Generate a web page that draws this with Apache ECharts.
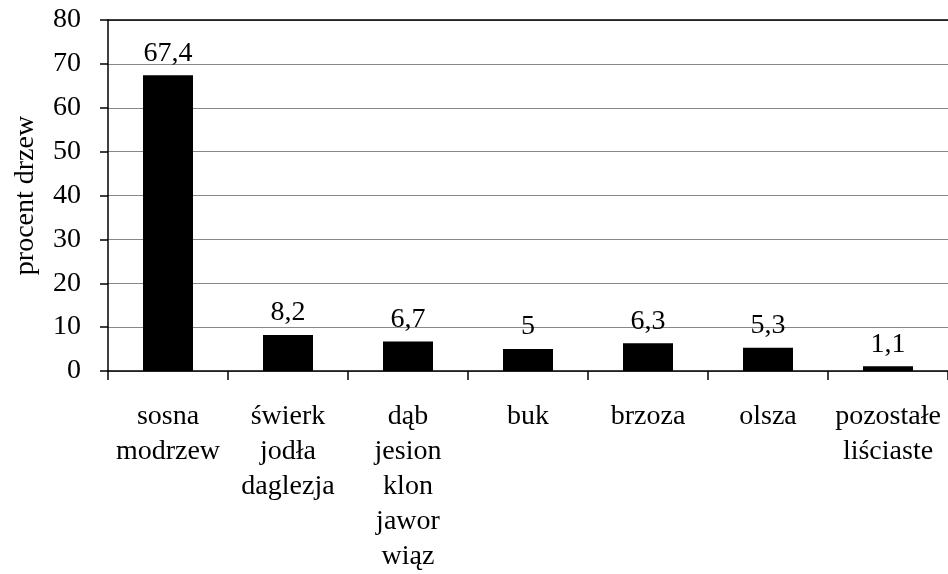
<!DOCTYPE html>
<html>
<head>
<meta charset="utf-8">
<script src="https://cdn.jsdelivr.net/npm/echarts@6/dist/echarts.min.js"></script>
<style>html,body{margin:0;padding:0;background:#fff}#c{width:948px;height:574px}</style>
</head>
<body>
<div id="c"></div>
<script>
const categories = ['sosna\nmodrzew', 'świerk\njodła\ndaglezja', 'dąb\njesion\nklon\njawor\nwiąz', 'buk', 'brzoza', 'olsza', 'pozostałe\nliściaste'];
const values = [67.4, 8.2, 6.7, 5, 6.3, 5.3, 1.1];
const yName = 'procent drzew';
const FONT = '"Liberation Serif", "Times New Roman", serif';
const chart = echarts.init(document.getElementById('c'), null, {renderer: 'canvas'});
chart.setOption({
  animation: false,
  grid: {left: 108, right: 0, top: 20, bottom: 199},
  xAxis: [{
    type: 'category', data: categories, position: 'bottom',
    axisLine: {lineStyle: {color: '#000', width: 1.5}},
    axisTick: {show: true, length: 9, lineStyle: {color: '#000', width: 1.5}},
    axisLabel: {color: '#000', fontFamily: FONT, fontSize: 28, lineHeight: 35, margin: 28, interval: 0}
  }, {
    type: 'category', data: categories, position: 'top',
    axisLine: {show: true, onZero: false, lineStyle: {color: '#000', width: 1.5}},
    axisTick: {show: false}, axisLabel: {show: false}
  }],
  yAxis: {
    type: 'value', min: 0, max: 80, interval: 10,
    name: yName, nameLocation: 'middle', nameGap: 68, nameRotate: 90,
    nameTextStyle: {color: '#000', fontFamily: FONT, fontSize: 28},
    axisLine: {show: true, lineStyle: {color: '#000', width: 1.5}},
    axisTick: {show: true, length: 8, lineStyle: {color: '#000', width: 1.5}},
    axisLabel: {color: '#000', fontFamily: FONT, fontSize: 28, margin: 27},
    splitLine: {lineStyle: {color: '#888', width: 1}}
  },
  series: [{
    type: 'bar', data: values, xAxisIndex: 0, barWidth: 50,
    itemStyle: {color: '#000'},
    label: {show: true, position: 'top', distance: 8, color: '#000', fontFamily: FONT, fontSize: 28,
      formatter: p => String(p.value).replace('.', ',')}
  }]
});
</script>
</body>
</html>
